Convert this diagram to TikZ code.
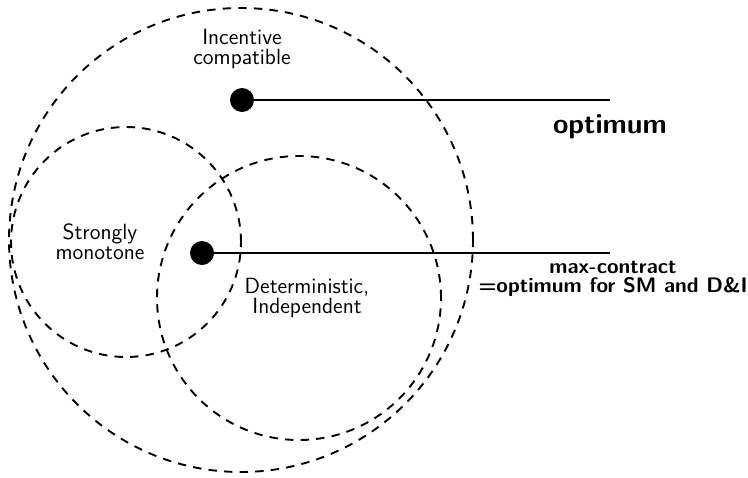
\documentclass[tikz,border=0pt]{standalone}
\begin{document}
\begin{tikzpicture}[x=0.5pt,y=-0.5pt,
  setcircle/.style={draw, circle, line width=0.95pt, dash pattern=on 4.2pt off 3.6pt, inner sep=0pt},
  dot/.style={circle, fill=black, minimum size=12pt, inner sep=0pt},
  rule/.style={line width=1pt},
  lbl/.style={align=center, inner sep=0pt, font=\sffamily\fontsize{11}{10}\selectfont},
  blbl/.style={align=center, inner sep=0pt, font=\sffamily\bfseries\fontsize{10.5}{9.6}\selectfont},
  biglbl/.style={inner sep=0pt, font=\sffamily\bfseries\fontsize{14}{16}\selectfont}]
\useasboundingbox (0,0) rectangle (748,477);
\node[setcircle, minimum size=232pt] (ic) at (241,240) {};
\node[setcircle, minimum size=115pt] (sm) at (126,242) {};
\node[setcircle, minimum size=142pt] (di) at (299,298) {};
\coordinate (e1) at (610,100);
\coordinate (e2) at (610,253);
\node[dot] (d1) at (242,100) {};
\node[dot] (d2) at (202,253) {};
\draw[rule] (d1.center) -- (e1);
\draw[rule] (d2.center) -- (e2);
\node[lbl] (tic) at (242,49) {Incentive\\compatible};
\node[lbl] (tsm) at (100,242) {Strongly\\monotone};
\node[lbl] (tdi) at (307,298) {Deterministic,\\Independent};
\node[biglbl, anchor=base] (topt) at (610,133) {optimum};
\node[blbl] (tmc) at (613,279) {max-contract\\=optimum for SM and D\&I};
\end{tikzpicture}
\end{document}
